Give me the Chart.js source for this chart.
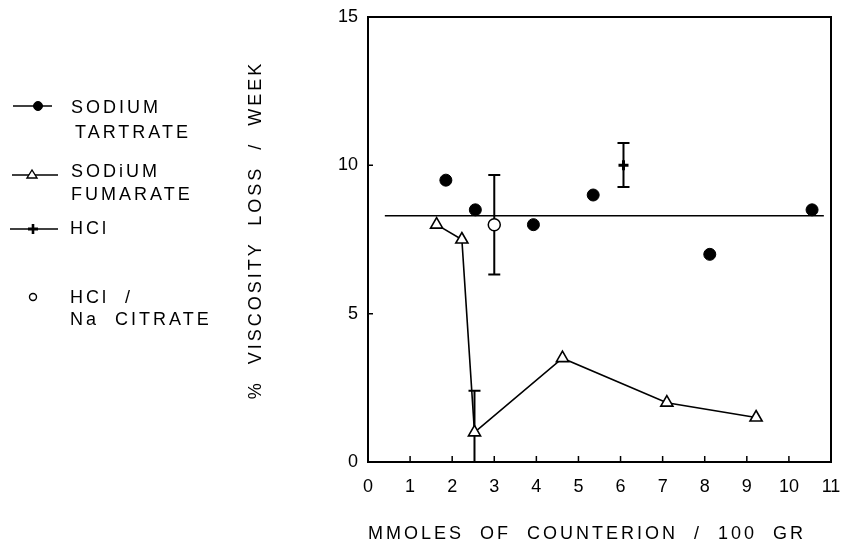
<!DOCTYPE html>
<html>
<head>
<meta charset="utf-8">
<script src="https://cdn.jsdelivr.net/npm/chart.js@4.4.1/dist/chart.umd.min.js"></script>
<style>
  html, body { margin: 0; padding: 0; background: #fff; }
  #wrap { position: relative; width: 844px; height: 544px; overflow: hidden; }
  canvas { position: absolute; left: 0; top: 0; }
  .t { position: absolute; font-family: "Liberation Sans", Arial, sans-serif; font-size: 18px;
       line-height: 20px; letter-spacing: 3px; color: #000; white-space: pre; }
  svg.sym { position: absolute; left: 0; top: 0; }
</style>
</head>
<body>
<div id="wrap">
  <canvas id="c" width="844" height="544"></canvas>
  <svg class="sym" width="70" height="330" viewBox="0 0 70 330">
    <g stroke="#000" fill="none">
      <line x1="13" y1="106" x2="52" y2="106" stroke-width="1.3"/>
      <circle cx="38" cy="106" r="4.5" fill="#000"/>
      <line x1="12" y1="175" x2="58" y2="175" stroke-width="1.3"/>
      <polygon points="32,170 27,178 37,178" fill="#fff" stroke-width="1.4"/>
      <line x1="10" y1="229" x2="58" y2="229" stroke-width="1.3"/>
      <line x1="28" y1="229" x2="38" y2="229" stroke-width="3"/>
      <line x1="33" y1="224" x2="33" y2="234" stroke-width="2.6"/>
      <circle cx="33" cy="297" r="3.5" fill="#fff" stroke-width="1.4"/>
    </g>
  </svg>
  <div class="t" style="left:71px;top:97px">SODIUM</div>
  <div class="t" style="left:75px;top:122px">TARTRATE</div>
  <div class="t" style="left:71px;top:161px">SODiUM</div>
  <div class="t" style="left:71px;top:184px">FUMARATE</div>
  <div class="t" style="left:70px;top:218px">HCl</div>
  <div class="t" style="left:70px;top:287px">HCl  /</div>
  <div class="t" style="left:70px;top:309px">Na  CITRATE</div>
  <div class="t" style="left:85px;top:220px;width:340px;text-align:center;transform:rotate(-90deg);">%  VISCOSITY  LOSS  /  WEEK</div>
  <div class="t" style="left:368px;top:523px;">MMOLES  OF  COUNTERION  /  100  GR</div>
</div>
<script>
// ---- data ----
const tartrateX = [1.85, 2.55, 3.93, 5.35, 8.12, 10.55];
const tartrateY = [9.5, 8.5, 8.0, 9.0, 7.0, 8.5];

const fumarateX = [1.63, 2.23, 2.53, 4.62, 7.10, 9.22];
const fumarateY = [8.0, 7.5, 1.0, 3.5, 2.0, 1.5];

const hclX = [6.07];
const hclY = [10.0];

const citrateX = [3.0];
const citrateY = [8.0];

const meanLineX = [0.4, 10.83];
const meanLineY = [8.3, 8.3];

// error bars: x, low, high
const errX    = [3.0, 6.07, 2.53];
const errLow  = [6.32, 9.27, -0.4];
const errHigh = [9.67, 10.75, 2.4];

const xTicks = [0, 1, 2, 3, 4, 5, 6, 7, 8, 9, 10, 11];
const yTicks = [0, 5, 10, 15];

const pts = (xs, ys) => xs.map((x, i) => ({ x: x, y: ys[i] }));

const errorBars = {
  id: 'errorBars',
  beforeDatasetsDraw(chart) {
    const { ctx, chartArea: a, scales: { x, y } } = chart;
    ctx.save();
    ctx.beginPath();
    ctx.rect(a.left, a.top, a.right - a.left, a.bottom - a.top);
    ctx.clip();
    ctx.strokeStyle = '#000';
    ctx.lineWidth = 2;
    errX.forEach((ex, i) => {
      const px = x.getPixelForValue(ex);
      const p1 = y.getPixelForValue(errLow[i]);
      const p2 = y.getPixelForValue(errHigh[i]);
      ctx.beginPath();
      ctx.moveTo(px, p1); ctx.lineTo(px, p2);
      [p1, p2].forEach(p => {
        if (p >= a.top && p <= a.bottom - 2) { ctx.moveTo(px - 6, p); ctx.lineTo(px + 6, p); }
      });
      ctx.stroke();
    });
    ctx.restore();
  }
};

const frame = {
  id: 'frame',
  afterDraw(chart) {
    const { ctx, chartArea: a, scales: { x, y } } = chart;
    ctx.save();
    ctx.strokeStyle = '#000';
    ctx.lineWidth = 2;
    ctx.strokeRect(a.left, a.top, a.right - a.left, a.bottom - a.top);
    ctx.lineWidth = 1.5;
    ctx.beginPath();
    x.ticks.forEach(t => {
      if (t.value > x.min && t.value < x.max) {
        const px = x.getPixelForValue(t.value);
        ctx.moveTo(px, a.bottom); ctx.lineTo(px, a.bottom - 6);
      }
    });
    y.ticks.forEach(t => {
      if (t.value > y.min && t.value < y.max) {
        const py = y.getPixelForValue(t.value);
        ctx.moveTo(a.left, py); ctx.lineTo(a.left + 5, py);
      }
    });
    ctx.stroke();
    ctx.restore();
  }
};

const tickFont = { family: '"Liberation Sans", Arial, sans-serif', size: 18 };

new Chart(document.getElementById('c'), {
  type: 'scatter',
  data: {
    datasets: [
      { label: 'SODIUM TARTRATE', data: pts(tartrateX, tartrateY), pointStyle: 'circle',
        pointRadius: 6, backgroundColor: '#000', borderColor: '#000', showLine: false },
      { label: 'HCl', data: pts(hclX, hclY), pointStyle: 'cross', pointRadius: 5,
        borderWidth: 3, borderColor: '#000', backgroundColor: '#000', showLine: false },
      { label: 'HCl / Na CITRATE', data: pts(citrateX, citrateY), pointStyle: 'circle',
        pointRadius: 6, borderWidth: 1.5, backgroundColor: '#fff', borderColor: '#000', showLine: false },
      { label: 'SODiUM FUMARATE', data: pts(fumarateX, fumarateY), pointStyle: 'triangle',
        pointRadius: 7, borderWidth: 1.6, pointBackgroundColor: '#fff', borderColor: '#000',
        showLine: true, tension: 0 },
      { label: 'mean', data: pts(meanLineX, meanLineY), pointRadius: 0, borderWidth: 1.5,
        borderColor: '#000', showLine: true }
    ]
  },
  options: {
    responsive: false,
    animation: false,
    layout: { padding: { left: 300, right: 13, top: 17, bottom: 0 } },
    plugins: { legend: { display: false }, tooltip: { enabled: false } },
    scales: {
      x: {
        type: 'linear', min: 0, max: 11,
        afterBuildTicks: s => { s.ticks = xTicks.map(v => ({ value: v })); },
        afterFit: s => { s.height = 82; s.paddingLeft = 0; s.paddingRight = 0; },
        grid: { display: false, drawTicks: false },
        border: { display: false },
        ticks: { color: '#000', font: tickFont, padding: 14, autoSkip: false, maxRotation: 0 }
      },
      y: {
        type: 'linear', min: 0, max: 15,
        afterBuildTicks: s => { s.ticks = yTicks.map(v => ({ value: v })); },
        afterFit: s => { s.width = 68; s.paddingTop = 0; s.paddingBottom = 0; },
        grid: { display: false, drawTicks: false },
        border: { display: false },
        ticks: { color: '#000', font: tickFont, padding: 10 }
      }
    }
  },
  plugins: [errorBars, frame]
});
</script>
</body>
</html>
